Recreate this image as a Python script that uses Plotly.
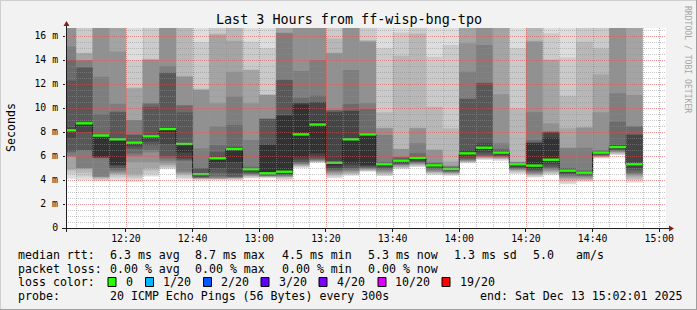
import datetime as dt
import plotly.graph_objects as go

# ---------------- data ----------------
title_text = "Last 3 Hours from ff-wisp-bng-tpo"
t_start = dt.datetime(2025, 12, 13, 12, 2, 1)
t_end = dt.datetime(2025, 12, 13, 15, 2, 1)
slot_minutes = 5
n_slots = 35
slot_start = [dt.datetime(2025, 12, 13, 12, 0) + dt.timedelta(minutes=slot_minutes * k) for k in range(n_slots)]

x_tick_labels = ["12:20", "12:40", "13:00", "13:20", "13:40", "14:00", "14:20", "14:40", "15:00"]
y_tick_values = [0, 2, 4, 6, 8, 10, 12, 14, 16]
y_tick_labels = ["0", "2 m", "4 m", "6 m", "8 m", "10 m", "12 m", "14 m", "16 m"]

# median rtt per 5-minute slot (ms)
median_ms = [8.14, 8.72, 7.70, 7.39, 7.11, 7.64, 8.25, 7.00, 4.48, 5.81, 6.58, 4.89,
             4.56, 4.69, 7.80, 8.62, 5.44, 7.39, 7.80, 5.31, 5.61, 5.85, 5.22, 4.92,
             6.22, 6.69, 6.28, 5.31, 5.20, 5.69, 4.78, 4.61, 6.28, 6.75, 5.31]

# 20 sorted ping rtts per slot (ms)
c00 = [4.1, 4.5, 4.8, 4.9, 5.9, 6.0, 6.3, 6.4, 7.5, 8.0, 8.2, 8.4, 12.3, 14.0, 15.1, 17, 18, 19, 20, 22]
c01 = [4.0, 4.3, 4.6, 4.9, 4.97, 5.0, 6.45, 6.5, 8.0, 8.5, 8.72, 8.8, 13.36, 13.4, 13.95, 14.0, 14.56, 14.6, 18, 20]
c02 = [3.9, 4.0, 4.1, 4.2, 4.25, 4.3, 5.8, 5.85, 5.9, 5.94, 7.7, 7.72, 7.75, 9.47, 12.6, 17, 18, 19, 20, 22]
c03 = [3.9, 4.2, 4.4, 4.5, 4.6, 4.7, 4.85, 5.0, 5.2, 5.25, 7.39, 7.45, 9.64, 9.7, 10.36, 14.7, 17, 18, 20, 22]
c04 = [3.86, 4.1, 4.3, 4.5, 5.5, 6.0, 6.2, 6.6, 6.8, 7.0, 7.11, 7.19, 7.75, 7.8, 8.99, 9.0, 11.64, 11.7, 14.0, 17]
c05 = [4.3, 4.5, 4.8, 5.0, 5.5, 6.3, 6.5, 6.9, 7.2, 7.5, 7.64, 7.7, 10.1, 10.36, 10.4, 14.0, 14.05, 14.1, 17, 20]
c06 = [4.9, 5.0, 5.1, 5.25, 5.4, 5.6, 5.8, 6.0, 7.0, 8.0, 8.25, 8.44, 12.9, 12.95, 13.5, 17, 18, 19, 20, 22]
c07 = [4.05, 4.2, 4.4, 4.5, 4.6, 4.7, 5.6, 5.7, 5.8, 6.3, 7.0, 7.05, 9.64, 10.2, 10.25, 12.6, 12.65, 17, 19, 22]
c08 = [4.0, 4.05, 4.1, 4.12, 4.15, 4.18, 4.2, 4.25, 4.3, 4.35, 4.48, 4.55, 4.97, 5.0, 6.64, 11.5, 11.55, 11.6, 15.5, 17]
c09 = [4.0, 4.05, 4.08, 4.1, 4.15, 4.2, 4.3, 4.6, 5.0, 5.5, 5.81, 6.0, 6.36, 6.9, 8.45, 10.4, 16.1, 16.2, 17, 20]
c10 = [4.0, 4.05, 4.1, 4.14, 4.17, 4.2, 4.25, 4.3, 4.6, 5.5, 6.58, 6.7, 6.78, 8.58, 10.94, 13.03, 15.6, 17, 19, 22]
c11 = [4.14, 4.2, 4.3, 4.35, 4.4, 4.45, 4.5, 4.6, 4.7, 4.8, 4.89, 4.95, 5.0, 5.11, 7.33, 10.39, 13.17, 13.2, 15.53, 17]
c12 = [4.15, 4.2, 4.25, 4.3, 4.32, 4.35, 4.38, 4.4, 4.45, 4.5, 6.92, 6.95, 9.08, 9.1, 9.12, 11.08, 11.1, 11.12, 14.97, 17]
c13 = [4.0, 4.1, 4.2, 4.25, 4.3, 4.35, 4.4, 4.45, 4.5, 4.6, 9.36, 9.4, 12.33, 12.35, 16.22, 16.3, 17, 18, 20, 22]
c14 = [5.0, 5.1, 5.15, 5.2, 5.3, 5.35, 5.4, 5.5, 5.7, 5.94, 10.3, 10.39, 10.45, 10.86, 13.08, 17, 18, 19, 20, 22]
c15 = [5.45, 5.48, 5.5, 5.55, 5.6, 5.65, 5.7, 5.8, 5.94, 6.22, 8.9, 10.47, 10.5, 11.03, 14.0, 17, 18, 19, 20, 22]
c16 = [4.15, 4.3, 4.4, 4.5, 4.6, 4.7, 4.8, 4.9, 5.0, 5.2, 5.5, 9.64, 9.7, 9.83, 9.85, 14.56, 14.6, 15.8, 17, 20]
c17 = [4.36, 4.45, 4.5, 4.6, 4.7, 4.8, 4.9, 5.0, 5.2, 5.39, 7.5, 9.75, 9.8, 10.33, 13.17, 17, 18, 19, 20, 22]
c18 = [4.69, 4.75, 4.8, 4.85, 4.9, 4.95, 5.0, 5.1, 5.15, 5.25, 7.85, 7.9, 7.95, 9.92, 10.39, 15.53, 15.6, 15.65, 17, 20]
c19 = [4.33, 4.4, 4.5, 4.6, 4.7, 4.8, 4.9, 5.0, 5.1, 5.2, 5.35, 5.4, 5.45, 5.5, 7.75, 8.31, 8.35, 9.64, 14.97, 17]
c20 = [4.9, 5.0, 5.05, 5.1, 5.2, 5.25, 5.3, 5.35, 5.4, 5.5, 5.65, 5.7, 5.8, 5.9, 5.94, 6.58, 6.6, 14.36, 16.3, 17]
c21 = [5.08, 5.15, 5.2, 5.3, 5.35, 5.4, 5.45, 5.5, 5.6, 5.7, 5.9, 5.95, 6.0, 6.22, 7.06, 8.31, 8.35, 16.2, 17, 20]
c22 = [4.4, 4.5, 4.6, 4.65, 4.7, 4.8, 4.9, 5.0, 5.1, 5.15, 5.25, 5.3, 5.35, 5.4, 5.5, 6.5, 6.55, 10.11, 14.28, 17]
c23 = [4.35, 4.42, 4.5, 4.55, 4.6, 4.65, 4.7, 4.75, 4.8, 4.88, 4.95, 5.0, 5.05, 5.1, 5.15, 5.2, 5.53, 8.31, 15.25, 17]
c24 = [5.4, 5.45, 5.5, 5.55, 5.6, 5.65, 5.7, 5.8, 5.9, 6.1, 6.3, 6.5, 10.75, 10.8, 13.03, 15.4, 17, 18, 20, 22]
c25 = [5.67, 5.75, 5.8, 5.85, 5.9, 5.95, 6.0, 6.1, 6.3, 6.5, 6.8, 7.06, 12.06, 12.1, 15.25, 17, 18, 19, 20, 22]
c26 = [5.6, 5.7, 5.75, 5.8, 5.85, 5.9, 5.95, 6.0, 6.1, 6.2, 6.35, 6.4, 6.5, 6.6, 7.06, 11.14, 17, 18, 20, 22]
c27 = [4.5, 4.6, 4.7, 4.8, 4.85, 4.9, 4.95, 5.0, 5.1, 5.2, 5.35, 5.4, 5.42, 5.45, 5.48, 5.5, 5.53, 9.97, 14.97, 17]
c28 = [4.2, 4.3, 4.4, 4.45, 4.5, 4.6, 4.7, 4.8, 4.9, 5.0, 7.06, 7.1, 7.15, 7.33, 9.64, 15.53, 15.6, 17, 19, 22]
c29 = [4.4, 4.5, 4.6, 4.7, 4.8, 4.9, 5.0, 5.1, 5.3, 5.5, 7.53, 7.97, 8.0, 8.02, 8.05, 8.72, 14.0, 14.05, 16.22, 17]
c30 = [3.65, 3.8, 3.95, 4.1, 4.2, 4.3, 4.4, 4.5, 4.6, 4.7, 4.85, 4.9, 4.95, 5.0, 6.64, 6.7, 8.31, 11.03, 14.2, 17]
c31 = [3.86, 3.95, 4.0, 4.1, 4.2, 4.3, 4.35, 4.4, 4.5, 4.55, 4.65, 4.7, 4.75, 4.8, 6.69, 8.36, 8.4, 15.53, 17, 20]
c32 = [5.8, 5.85, 5.9, 5.95, 5.98, 6.0, 6.05, 6.1, 6.15, 6.2, 6.3, 6.35, 6.4, 6.45, 6.5, 9.64, 12.8, 14.97, 17, 20]
c33 = [6.08, 6.15, 6.2, 6.3, 6.35, 6.4, 6.45, 6.5, 6.6, 6.7, 6.85, 6.9, 6.92, 8.86, 11.22, 17, 18, 19, 20, 22]
c34 = [3.8, 4.0, 4.1, 4.3, 4.4, 4.5, 4.6, 4.8, 5.0, 5.2, 5.4, 7.75, 7.8, 8.45, 8.5, 11.08, 17, 18, 20, 22]
pings = [c00, c01, c02, c03, c04, c05, c06, c07, c08, c09, c10, c11, c12, c13, c14, c15, c16, c17,
         c18, c19, c20, c21, c22, c23, c24, c25, c26, c27, c28, c29, c30, c31, c32, c33, c34]

legend_rows = [
    [("median rtt:", 16), ("6.3 ms avg", 107.5), ("8.7 ms max", 193), ("4.5 ms min", 279.5),
     ("5.3 ms now", 365.5), ("1.3 ms sd", 451.5), ("5.0", 530.5), ("am/s", 573.5)],
    [("packet loss:", 16), ("0.00 % avg", 107.5), ("0.00 % max", 193), ("0.00 % min", 279.5),
     ("0.00 % now", 365.5)],
    [("loss color:", 16)],
    [("probe:", 16), ("20 ICMP Echo Pings (56 Bytes) every 300s", 107.5),
     ("end: Sat Dec 13 15:02:01 2025", 478)],
]
loss_labels = ["0", "1/20", "2/20", "3/20", "4/20", "10/20", "19/20"]
loss_colors = ["#26ff00", "#00b8ff", "#0059ff", "#5e00ff", "#7e00ff", "#dd00ff", "#ff0000"]
loss_box_x = [108, 145.5, 203.5, 261, 319, 378, 442]

# ---------------- geometry ----------------
W, H = 697, 310
L, T, PW, PH = 66, 28, 600, 200
Y_MAX = 16.6667
SPAN = (t_end - t_start).total_seconds()
MONO = "DejaVu Sans Mono"


def px_x(px):
    return (px - L) / PW


def px_y(py):
    return (T + PH - py) / PH


def time_px(t):
    return L + PW * (t - t_start).total_seconds() / SPAN


def val_py(v):
    return T + PH * (1 - v / Y_MAX)


def dot(xp, yp):
    return "M %.5f %.5f H %.5f V %.5f H %.5f Z " % (px_x(xp), px_y(yp), px_x(xp + 1), px_y(yp + 1), px_x(xp))


fig = go.Figure()

# ---------------- smoke ----------------
half = 10
centers = [s + dt.timedelta(minutes=slot_minutes / 2) for s in slot_start]
for i in range(half):
    lvl = int(190 / half * (half - (i + 1))) + 50
    col = "#%02x%02x%02x" % (lvl, lvl, lvl)
    base = [p[i] for p in pings]
    top = [p[19 - i] for p in pings]
    fig.add_trace(go.Bar(x=centers, base=base, y=[b - a for a, b in zip(base, top)],
                         width=slot_minutes * 60 * 1000, marker=dict(color=col, line=dict(width=0)),
                         hoverinfo="skip", showlegend=False))

# median step line (dark) and green median marks
step_x = slot_start + [slot_start[-1] + dt.timedelta(minutes=slot_minutes)]
step_y = median_ms + [median_ms[-1]]
fig.add_trace(go.Scatter(x=step_x, y=step_y, mode="lines", line=dict(color="#202020", width=1, shape="hv"),
                         hoverinfo="skip", showlegend=False))
gx, gy = [], []
for s, m in zip(slot_start, median_ms):
    gx += [s, s + dt.timedelta(minutes=slot_minutes), None]
    gy += [m, m, None]
fig.add_trace(go.Scatter(x=gx, y=gy, mode="lines", line=dict(color=loss_colors[0], width=2.4),
                         hoverinfo="skip", showlegend=False))

# ---------------- dotted grid above the smoke (1px on / 1px off), one shape per line ----------------
GRID_MINOR = "rgba(143,143,143,0.5)"
GRID_MAJOR = "rgba(222,79,79,0.58)"
shapes = []
k = 1
while k * 0.5 <= Y_MAX:
    yrow = round(val_py(k * 0.5))
    path = "".join(dot(xp, yrow) for xp in range(L, L + PW, 2))
    shapes.append(dict(type="path", xref="paper", yref="paper", path=path, layer="above",
                       fillcolor=GRID_MAJOR if k % 4 == 0 else GRID_MINOR, line=dict(width=0)))
    k += 1
t = dt.datetime(2025, 12, 13, 12, 5)
while t <= t_end:
    xcol = round(time_px(t))
    path = "".join(dot(xcol, yp) for yp in range(T, T + PH, 2))
    shapes.append(dict(type="path", xref="paper", yref="paper", path=path, layer="above",
                       fillcolor=GRID_MAJOR if t.minute % 20 == 0 else GRID_MINOR, line=dict(width=0)))
    t += dt.timedelta(minutes=5)

# axes with arrows
AXIS = "#1f1f1f"
ARROW = "#801f1f"
shapes.append(dict(type="line", xref="paper", yref="paper", x0=px_x(62), x1=px_x(670), y0=px_y(228.5), y1=px_y(228.5),
                   line=dict(color=AXIS, width=1), layer="above"))
shapes.append(dict(type="line", xref="paper", yref="paper", x0=px_x(66.5), x1=px_x(66.5), y0=px_y(232), y1=px_y(24),
                   line=dict(color=AXIS, width=1), layer="above"))
shapes.append(dict(type="path", xref="paper", yref="paper",
                   path="M %f %f L %f %f L %f %f Z" % (px_x(669), px_y(225.5), px_x(674), px_y(228.5), px_x(669), px_y(231.5)),
                   fillcolor=ARROW, line=dict(width=0), layer="above"))
shapes.append(dict(type="path", xref="paper", yref="paper",
                   path="M %f %f L %f %f L %f %f Z" % (px_x(63.5), px_y(26), px_x(66.5), px_y(21), px_x(69.5), px_y(26)),
                   fillcolor=ARROW, line=dict(width=0), layer="above"))

# frame (rrdtool shade)
shapes.append(dict(type="line", xref="paper", yref="paper", x0=px_x(0), x1=px_x(W), y0=px_y(0.5), y1=px_y(0.5),
                   line=dict(color="#cfcfcf", width=1)))
shapes.append(dict(type="line", xref="paper", yref="paper", x0=px_x(0.5), x1=px_x(0.5), y0=px_y(0), y1=px_y(H),
                   line=dict(color="#cfcfcf", width=1)))
shapes.append(dict(type="line", xref="paper", yref="paper", x0=px_x(0), x1=px_x(W), y0=px_y(H - 0.5), y1=px_y(H - 0.5),
                   line=dict(color="#9e9e9e", width=1)))
shapes.append(dict(type="line", xref="paper", yref="paper", x0=px_x(W - 0.5), x1=px_x(W - 0.5), y0=px_y(0), y1=px_y(H),
                   line=dict(color="#9e9e9e", width=1)))

# ---------------- texts ----------------
ann = []


def text(px, py, s, size=11.6, xanchor="left", color="#000000", angle=0):
    ann.append(dict(x=px_x(px), y=px_y(py), xref="paper", yref="paper", text=s, showarrow=False,
                    xanchor=xanchor, yanchor="middle", textangle=angle,
                    font=dict(family=MONO, size=size, color=color)))


text(348.5, 19, title_text, size=13.4, xanchor="center")
text(11, 128, "Seconds", size=11.6, xanchor="center", angle=-90)
text(688, 59, "RRDTOOL / TOBI OETIKER", size=8.1, xanchor="center", color="#a6a6a6", angle=90)

row_y = [255, 268.5, 282, 296]
for row, yy in zip(legend_rows, row_y):
    for s, xx in row:
        text(xx, yy, s.replace(" ", "&nbsp;"))
for lab, colr, bx in zip(loss_labels, loss_colors, loss_box_x):
    shapes.append(dict(type="rect", xref="paper", yref="paper", x0=px_x(bx), x1=px_x(bx + 8),
                       y0=px_y(277.5), y1=px_y(286.5), fillcolor=colr, line=dict(color="#000000", width=1)))
    text(bx + 15.5, row_y[2], lab)

# ---------------- layout ----------------
x_tick_vals = [dt.datetime(2025, 12, 13, 12, 20) + dt.timedelta(minutes=20 * j) for j in range(len(x_tick_labels))]
fig.update_layout(
    width=W, height=H, autosize=False,
    margin=dict(l=L, r=W - L - PW, t=T, b=H - T - PH, pad=0),
    paper_bgcolor="#f2f2f2", plot_bgcolor="#ffffff",
    barmode="overlay", showlegend=False,
    shapes=shapes, annotations=ann,
    xaxis=dict(type="date", range=[t_start, t_end], showgrid=False, zeroline=False, showline=False,
               tickmode="array", tickvals=x_tick_vals, ticktext=x_tick_labels,
               ticks="outside", ticklen=3, tickcolor=AXIS, tickwidth=1, ticklabelstandoff=-2,
               tickfont=dict(family=MONO, size=9.8, color="#000000"), fixedrange=True),
    yaxis=dict(range=[0, Y_MAX], showgrid=False, zeroline=False, showline=False,
               tickmode="array", tickvals=y_tick_values, ticktext=y_tick_labels,
               ticks="outside", ticklen=2, tickcolor=AXIS, tickwidth=1, ticklabelstandoff=3,
               tickfont=dict(family=MONO, size=9.8, color="#000000"), fixedrange=True),
)

fig.write_html("out.html")
